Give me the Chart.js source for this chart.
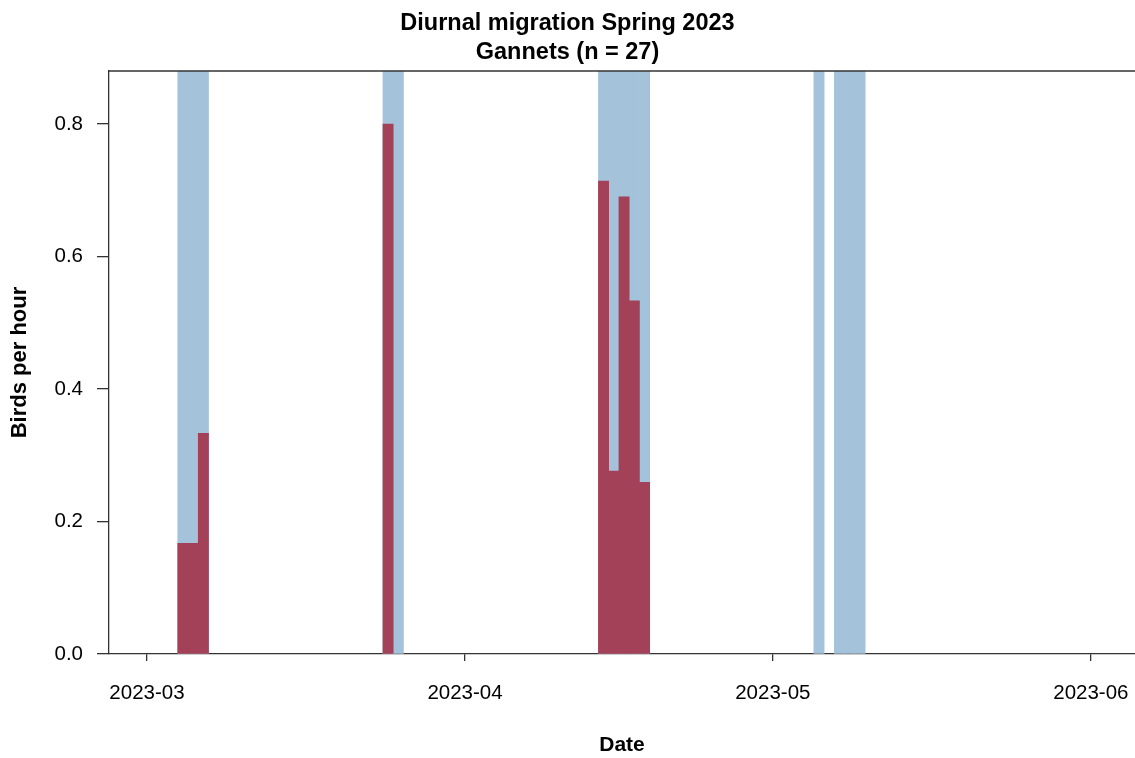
<!DOCTYPE html>
<html lang="en">
<head>
    <meta charset="UTF-8">
    <title>Diurnal migration Spring 2023 - Gannets</title>
    <script src="https://cdn.jsdelivr.net/npm/chart.js@4.4.0/dist/chart.umd.min.js"></script>
    <style>
        body {
            margin: 0;
            background-color: #ffffff;
        }
        .wrap {
            width: 1135px;
            height: 758px;
        }
    </style>
</head>
<body>
    <div class="wrap">
        <canvas id="migrationChart"></canvas>
    </div>

    <script>
        // Days with observation effort (blue bands, full height)
        const obsDays = [
            '2023-03-04', '2023-03-05', '2023-03-06',
            '2023-03-24', '2023-03-25',
            '2023-04-14', '2023-04-15', '2023-04-16', '2023-04-17', '2023-04-18',
            '2023-05-05',
            '2023-05-07', '2023-05-08', '2023-05-09'
        ];

        // Days with gannets seen, and birds per hour on each
        const countDays = [
            '2023-03-04', '2023-03-05', '2023-03-06',
            '2023-03-24',
            '2023-04-14', '2023-04-15', '2023-04-16', '2023-04-17', '2023-04-18'
        ];
        const birdsPerHour = [0.167, 0.167, 0.333, 0.8, 0.714, 0.276, 0.690, 0.533, 0.259];

        // Axis ticks
        const monthTicks = ['2023-03-01', '2023-04-01', '2023-05-01', '2023-06-01'];
        const monthLabels = ['2023-03', '2023-04', '2023-05', '2023-06'];
        const yTicks = [0, 0.2, 0.4, 0.6, 0.8];

        const Y_MAX = 0.88;
        const origin = Date.UTC(2023, 2, 1);

        // days since 1 March
        function dayNum(s) {
            const p = s.split('-').map(Number);
            return (Date.UTC(p[0], p[1] - 1, p[2]) - origin) / 86400000;
        }

        const FONT = "'Liberation Sans', Arial, sans-serif";
        const AXIS = '#333333';

        // top frame line (R draws it, chart.js has no top axis here)
        const topFrame = {
            id: 'topFrame',
            afterDraw(chart) {
                const { ctx, chartArea } = chart;
                ctx.save();
                ctx.strokeStyle = AXIS;
                ctx.lineWidth = 1.3;
                ctx.beginPath();
                ctx.moveTo(chartArea.left, chartArea.top);
                ctx.lineTo(chartArea.right, chartArea.top);
                ctx.stroke();
                ctx.restore();
            }
        };

        const ctx = document.getElementById('migrationChart').getContext('2d');
        new Chart(ctx, {
            type: 'bar',
            data: {
                datasets: [
                    {
                        label: 'Birds per hour',
                        data: countDays.map((d, i) => ({ x: dayNum(d) + 0.5, y: birdsPerHour[i] })),
                        backgroundColor: 'rgb(163, 65, 88)',
                        order: 0
                    },
                    {
                        label: 'Observation days',
                        data: obsDays.map(d => ({ x: dayNum(d) + 0.5, y: Y_MAX })),
                        backgroundColor: 'rgb(165, 194, 219)',
                        order: 1
                    }
                ]
            },
            options: {
                responsive: true,
                maintainAspectRatio: false,
                animation: false,
                layout: { padding: 0 },
                datasets: {
                    bar: {
                        grouped: false,
                        barPercentage: 1,
                        categoryPercentage: 1,
                        borderWidth: 0
                    }
                },
                plugins: {
                    legend: { display: false },
                    title: {
                        display: true,
                        text: ['Diurnal migration Spring 2023', 'Gannets (n = 27)'],
                        color: '#000',
                        font: { family: FONT, size: 23.5, weight: 'bold', lineHeight: 1.213 },
                        padding: { top: 9.5, bottom: 4.5 }
                    }
                },
                scales: {
                    x: {
                        type: 'linear',
                        min: -3.7,
                        max: 96.3,
                        offset: false,
                        afterBuildTicks: (scale) => {
                            scale.ticks = monthTicks.map(d => ({ value: dayNum(d) }));
                        },
                        afterFit: (scale) => {
                            scale.height = 104;
                            scale.paddingLeft = 0;
                            scale.paddingRight = 0;
                        },
                        ticks: {
                            callback: (v, i) => monthLabels[i],
                            color: '#000',
                            font: { family: FONT, size: 20.5 },
                            padding: 20,
                            maxRotation: 0,
                            autoSkip: false
                        },
                        grid: {
                            offset: false,
                            drawOnChartArea: false,
                            drawTicks: true,
                            tickLength: 7,
                            color: AXIS,
                            lineWidth: 1.3
                        },
                        border: { display: true, color: AXIS, width: 1.3 },
                        title: {
                            display: true,
                            text: 'Date',
                            color: '#000',
                            font: { family: FONT, size: 21, weight: 'bold' },
                            padding: { top: 0, bottom: 0 }
                        }
                    },
                    y: {
                        min: 0,
                        max: Y_MAX,
                        afterBuildTicks: (scale) => {
                            scale.ticks = yTicks.map(v => ({ value: v }));
                        },
                        afterFit: (scale) => { scale.width = 109; },
                        ticks: {
                            callback: (v) => v.toFixed(1),
                            color: '#000',
                            font: { family: FONT, size: 20.5 },
                            padding: 14
                        },
                        grid: {
                            drawOnChartArea: false,
                            drawTicks: true,
                            tickLength: 12,
                            color: AXIS,
                            lineWidth: 1.3
                        },
                        border: { display: true, color: AXIS, width: 1.3 },
                        title: {
                            display: true,
                            text: 'Birds per hour',
                            color: '#000',
                            font: { family: FONT, size: 22, weight: 'bold' },
                            padding: { top: 7, bottom: 0 }
                        }
                    }
                }
            },
            plugins: [topFrame]
        });
    </script>
</body>
</html>
